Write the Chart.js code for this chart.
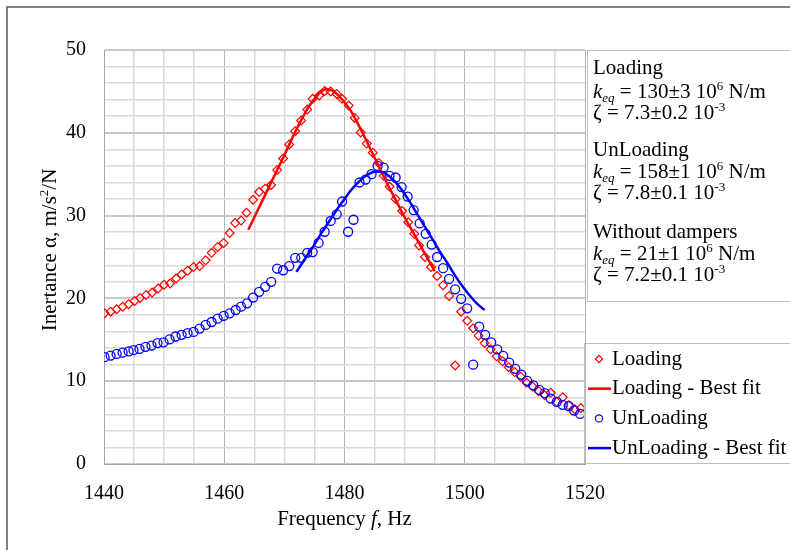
<!DOCTYPE html>
<html>
<head>
<meta charset="utf-8">
<script src="https://cdn.jsdelivr.net/npm/chart.js"></script>
<style>
  body { margin: 0; background: #fff; }
  canvas { display: block; }
</style>
</head>
<body>
<canvas id="frf" width="790" height="550"></canvas>
<script>
// measured points (Loading)
const loadFreq = [1440.1, 1441.1, 1442.1, 1443.1, 1444.1, 1445.1, 1446.0, 1447.0, 1448.0, 1449.0,
    1450.0, 1451.0, 1452.0, 1452.9, 1453.9, 1454.9, 1455.9, 1456.9, 1457.9, 1458.9,
    1459.9, 1460.9, 1461.8, 1462.8, 1463.7, 1464.8, 1465.8, 1466.8, 1467.8, 1468.8,
    1469.8, 1470.8, 1471.8, 1472.8, 1473.8, 1474.7, 1475.8, 1476.7, 1477.7, 1478.7,
    1479.6, 1480.7, 1481.7, 1482.7, 1483.7, 1484.7, 1485.7, 1486.5, 1487.5, 1488.5,
    1489.6, 1490.6, 1491.6, 1492.4, 1493.4, 1494.4, 1495.4, 1496.4, 1497.4, 1498.4,
    1499.4, 1500.4, 1501.4, 1502.3, 1503.3, 1504.3, 1505.3, 1506.3, 1507.3, 1508.3,
    1509.3, 1510.3, 1511.3, 1512.3, 1513.3, 1514.3, 1515.3, 1516.3, 1517.3, 1518.3, 1519.3]
const loadVal = [18.2, 18.4, 18.7, 19.0, 19.3, 19.7, 20.05, 20.4, 20.7, 21.2,
    21.65, 21.8, 22.4, 22.9, 23.35, 23.8, 23.9, 24.6, 25.5, 26.2,
    26.7, 27.9, 29.1, 29.4, 30.35, 31.9, 32.85, 33.25, 33.7, 35.5,
    36.9, 38.6, 40.2, 41.5, 42.8, 44.1, 44.5, 45.05, 45.0, 44.7,
    44.1, 43.3, 41.8, 40.05, 38.7, 37.6, 36.35, 34.8, 33.5, 32.0,
    30.55, 29.2, 27.8, 26.4, 25.0, 23.8, 22.7, 21.6, 20.3, 11.9,
    18.4, 17.3, 16.4, 15.5, 14.6, 13.85, 13.0, 12.4, 11.7, 11.1,
    10.55, 9.8, 9.35, 8.8, 8.3, 8.6, 7.5, 8.05, 7.1, 6.6, 6.75]

// measured points (UnLoading)
const unloadFreq = [1440.1, 1441.1, 1442.1, 1443.1, 1444.1, 1444.9, 1445.9, 1446.9, 1447.9, 1448.9,
    1449.9, 1450.9, 1451.9, 1452.9, 1453.9, 1454.9, 1455.9, 1456.9, 1457.9, 1458.9,
    1459.9, 1460.9, 1461.9, 1462.8, 1463.8, 1464.8, 1465.8, 1466.8, 1467.8, 1468.8,
    1469.8, 1470.8, 1471.8, 1472.8, 1473.8, 1474.7, 1475.7, 1476.7, 1477.7, 1478.7,
    1479.6, 1480.6, 1481.5, 1482.5, 1483.5, 1484.5, 1485.5, 1486.5, 1487.5, 1488.5,
    1489.5, 1490.5, 1491.5, 1492.5, 1493.5, 1494.5, 1495.4, 1496.4, 1497.4, 1498.4,
    1499.4, 1500.4, 1501.4, 1502.4, 1503.4, 1504.4, 1505.4, 1506.4, 1507.4, 1508.4,
    1509.4, 1510.4, 1511.4, 1512.4, 1513.3, 1514.3, 1515.3, 1516.3, 1517.3, 1518.2, 1519.2]
const unloadVal = [12.9, 13.1, 13.3, 13.45, 13.6, 13.75, 13.9, 14.15, 14.3, 14.6,
    14.7, 15.05, 15.4, 15.6, 15.8, 15.95, 16.35, 16.8, 17.15, 17.55,
    17.9, 18.2, 18.6, 19.0, 19.4, 20.1, 20.8, 21.4, 22.0, 23.6,
    23.4, 23.9, 24.9, 24.9, 25.5, 25.6, 26.7, 28.05, 29.35, 30.15,
    31.7, 28.05, 29.5, 34.0, 34.35, 35.0, 36.0, 35.8, 34.8, 34.6,
    33.45, 32.3, 30.65, 29.05, 27.8, 26.5, 25.0, 23.65, 22.35, 21.1,
    19.95, 18.8, 12.0, 16.6, 15.6, 14.7, 13.85, 13.05, 12.25, 11.5,
    10.8, 10.05, 9.5, 8.95, 8.55, 7.9, 7.5, 7.15, 7.0, 6.45, 6.05]

// best fit curves
const loadFitFreq = [1464, 1465, 1466, 1467, 1468, 1469, 1470, 1471, 1472, 1473,
    1474, 1475, 1476, 1477, 1478, 1479, 1480, 1481, 1482, 1483,
    1484, 1485, 1486, 1487, 1488, 1489, 1490, 1491, 1492, 1493, 1494, 1495]
const loadFitVal = [28.3, 29.8, 31.3, 32.8, 34.3, 35.8, 37.3, 38.9, 40.4, 41.8,
    43.1, 44.1, 44.9, 45.3, 45.1, 44.5, 43.7, 42.7, 41.4, 40.0,
    38.5, 37.0, 35.5, 34.0, 32.6, 31.2, 29.8, 28.5, 27.2, 25.9, 24.6, 23.3]
const unloadFitFreq = [1472, 1473, 1474, 1475, 1476, 1477, 1478, 1479, 1480, 1481,
    1482, 1483, 1484, 1485, 1486, 1487, 1488, 1489, 1490, 1491,
    1492, 1493, 1494, 1495, 1496, 1497, 1498, 1499, 1500, 1501, 1502, 1503.3]
const unloadFitVal = [23.2, 24.3, 25.4, 26.5, 27.7, 28.8, 29.9, 31.0, 32.0, 33.0,
    33.8, 34.5, 35.0, 35.3, 35.3, 35.0, 34.4, 33.6, 32.6, 31.5,
    30.3, 29.1, 27.9, 26.7, 25.5, 24.4, 23.2, 22.1, 21.1, 20.2, 19.4, 18.6]

const seriesNames = ["Loading", "Loading - Best fit", "UnLoading", "UnLoading - Best fit"]
const xTickLabels = [1440, 1460, 1480, 1500, 1520]
const yTickLabels = [0, 10, 20, 30, 40, 50]

// annotation box: [text, kind]  kind: n normal, i italic, sub, sup
const infoLines = [
    [["Loading", "n"]],
    [["k", "i"], ["eq", "sub"], [" = 130±3 10", "n"], ["6", "sup"], [" N/m", "n"]],
    [["ζ = 7.3±0.2 10", "n"], ["-3", "sup"]],
    [["UnLoading", "n"]],
    [["k", "i"], ["eq", "sub"], [" = 158±1 10", "n"], ["6", "sup"], [" N/m", "n"]],
    [["ζ = 7.8±0.1 10", "n"], ["-3", "sup"]],
    [["Without dampers", "n"]],
    [["k", "i"], ["eq", "sub"], [" = 21±1 10", "n"], ["6", "sup"], [" N/m", "n"]],
    [["ζ = 7.2±0.1 10", "n"], ["-3", "sup"]]
]
const infoLineY = [68, 92, 113, 150, 172, 193, 232, 254, 275]

const FAM = "'Liberation Serif', 'Times New Roman', serif"
const RED = '#ff0000'
const BLUE = '#0000ff'

function pts(xs, ys) {
    return xs.map(function (x, i) { return { x: x, y: ys[i] } })
}

function fontFor(kind, size) {
    if (kind == 'i') return 'italic ' + size + 'px ' + FAM
    if (kind == 'sub') return 'italic ' + Math.round(size * 0.62) + 'px ' + FAM
    if (kind == 'sup') return Math.round(size * 0.62) + 'px ' + FAM
    return size + 'px ' + FAM
}

function richWidth(ctx, parts, size) {
    let w = 0
    parts.forEach(function (p) {
        ctx.font = fontFor(p[1], size)
        w += ctx.measureText(p[0]).width
    })
    return w
}

function drawRich(ctx, x, y, parts, size) {
    ctx.textBaseline = 'middle'
    ctx.textAlign = 'left'
    parts.forEach(function (p) {
        ctx.font = fontFor(p[1], size)
        let dy = 0
        if (p[1] == 'sub') dy = size * 0.3
        if (p[1] == 'sup') dy = -size * 0.26
        ctx.fillText(p[0], x, y + dy)
        x += ctx.measureText(p[0]).width
    })
}

function marker(ctx, style, x, y, r, color) {
    ctx.save()
    ctx.strokeStyle = color
    ctx.lineWidth = 1.2
    ctx.fillStyle = '#fff'
    ctx.beginPath()
    if (style == 'rectRot') {
        ctx.moveTo(x, y - r); ctx.lineTo(x + r, y); ctx.lineTo(x, y + r); ctx.lineTo(x - r, y); ctx.closePath()
    } else {
        ctx.arc(x, y, r, 0, Math.PI * 2)
    }
    ctx.fill()
    ctx.stroke()
    ctx.restore()
}

const overlay = {
    id: 'overlay',
    afterDraw: function (chart) {
        let ctx = chart.ctx
        let area = chart.chartArea
        ctx.save()
        ctx.fillStyle = '#000'

        // axis titles
        let xt = [["Frequency ", "n"], ["f", "i"], [", Hz", "n"]]
        let w = richWidth(ctx, xt, 21)
        drawRich(ctx, (area.left + area.right) / 2 - w / 2, 519, xt, 21)

        let yt = [["Inertance α, m/s", "n"], ["2", "sup"], ["/N", "n"]]
        w = richWidth(ctx, yt, 21)
        ctx.save()
        ctx.translate(50, 250)
        ctx.rotate(-Math.PI / 2)
        drawRich(ctx, -w / 2, 0, yt, 21)
        ctx.restore()

        // parameter box
        ctx.strokeStyle = '#bfbfbf'
        ctx.lineWidth = 1
        ctx.strokeRect(587.5, 50.5, 220, 251)
        infoLines.forEach(function (line, i) {
            drawRich(ctx, 593, infoLineY[i], line, 21)
        })

        // legend
        ctx.strokeRect(584.5, 343.5, 220, 120)
        chart.data.datasets.forEach(function (ds, i) {
            let y = 359 + i * 29.7
            if (ds.showLine) {
                ctx.strokeStyle = ds.borderColor
                ctx.lineWidth = ds.borderWidth
                ctx.beginPath()
                ctx.moveTo(588, y)
                ctx.lineTo(611, y)
                ctx.stroke()
            } else {
                marker(ctx, ds.pointStyle, 599, y, 3.6, ds.borderColor)
            }
            ctx.fillStyle = '#000'
            drawRich(ctx, 612, y, [[ds.label, "n"]], 21)
        })

        // outer frame
        ctx.strokeStyle = '#595959'
        ctx.lineWidth = 1.5
        ctx.beginPath()
        ctx.moveTo(7, 560)
        ctx.lineTo(7, 7)
        ctx.lineTo(800, 7)
        ctx.stroke()
        ctx.restore()
    }
}

Chart.defaults.font.family = FAM
Chart.defaults.color = '#000'

let frf = new Chart(document.getElementById('frf'), {
    type: 'scatter',
    data: {
        datasets: [{
                label: seriesNames[0],
                data: pts(loadFreq, loadVal),
                showLine: false,
                pointStyle: 'rectRot',
                pointRadius: 4.4,
                borderColor: RED,
                backgroundColor: 'rgba(255,255,255,0)',
                pointBorderWidth: 1.2,
                order: 3
            },
            {
                label: seriesNames[1],
                data: pts(loadFitFreq, loadFitVal),
                showLine: true,
                pointRadius: 0,
                borderColor: RED,
                borderWidth: 2.5,
                cubicInterpolationMode: 'monotone',
                order: 1
            },
            {
                label: seriesNames[2],
                data: pts(unloadFreq, unloadVal),
                showLine: false,
                pointStyle: 'circle',
                pointRadius: 4.5,
                borderColor: BLUE,
                backgroundColor: 'rgba(255,255,255,0)',
                pointBorderWidth: 1.3,
                order: 2
            },
            {
                label: seriesNames[3],
                data: pts(unloadFitFreq, unloadFitVal),
                showLine: true,
                pointRadius: 0,
                borderColor: BLUE,
                borderWidth: 2.5,
                cubicInterpolationMode: 'monotone',
                order: 0
            }
        ]
    },
    options: {
        responsive: false,
        animation: false,
        layout: { padding: { left: 0, top: 50, right: 205, bottom: 0 } },
        plugins: {
            legend: { display: false },
            tooltip: { enabled: false }
        },
        scales: {
            x: {
                type: 'linear',
                min: 1440,
                max: 1520,
                border: { color: '#a6a6a6', width: 1 },
                grid: {
                    drawTicks: false,
                    color: function (c) { return c.tick.value % 20 == 0 ? '#b3b3b3' : '#d9d9d9' },
                    lineWidth: function (c) { return c.tick.value % 20 == 0 ? 1 : 1.5 }
                },
                ticks: {
                    stepSize: 5,
                    autoSkip: false,
                    maxRotation: 0,
                    padding: 18,
                    font: { size: 20 },
                    callback: function (v) { return xTickLabels.indexOf(v) >= 0 ? String(v) : '' }
                },
                afterFit: function (s) { s.height = 86 }
            },
            y: {
                type: 'linear',
                min: 0,
                max: 50,
                border: { color: '#a6a6a6', width: 1 },
                grid: {
                    drawTicks: false,
                    color: function (c) { return c.tick.value % 10 == 0 ? '#c8c8c8' : '#d9d9d9' },
                    lineWidth: function (c) { return c.tick.value % 10 == 0 ? 2 : 1.5 }
                },
                ticks: {
                    stepSize: 2,
                    autoSkip: false,
                    padding: 18,
                    font: { size: 20 },
                    callback: function (v) { return yTickLabels.indexOf(v) >= 0 ? String(v) : '' }
                },
                afterFit: function (s) { s.width = 104 }
            }
        }
    },
    plugins: [overlay]
})
</script>
</body>
</html>
